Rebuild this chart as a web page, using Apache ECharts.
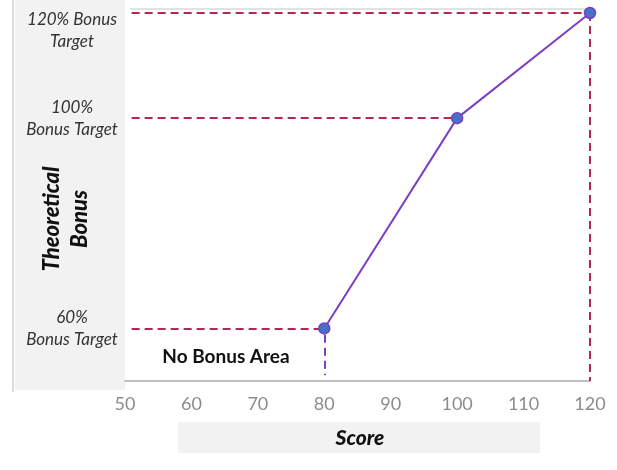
<!DOCTYPE html>
<html>
<head>
<meta charset="utf-8">
<script src="https://cdn.jsdelivr.net/npm/echarts@6/dist/echarts.min.js"></script>
<style>
    html, body {margin: 0; padding: 0; background: #ffffff;}
    #chart {width: 617px; height: 470px;}
</style>
</head>
<body>
<div id="chart"></div>
<script>
var scores      = [80, 100, 120];
var bonus       = [60, 100, 120];
var xMin        = 50;
var xMax        = 120;
var yMin        = 50;
var yMax        = 120;
var yLabelVals  = [60, 100, 120];
var yLabelTexts = ['60%\nBonus Target', '100%\nBonus Target', '120% Bonus\nTarget'];

var RED    = '#B32851';
var PURPLE = '#7B3FC4';
var FONT   = 'Lato';

var chartDom = document.getElementById('chart');
var chart    = echarts.init(chartDom, null, {renderer: 'canvas'});

/* Dashed guide lines from each point to the axes. */
var guides = [];
scores.forEach(function(score, i)
{
    guides.push([{coord: [xMin + 1, bonus[i]], lineStyle: {color: RED}}, {coord: [score, bonus[i]]}]);
});
guides.push([{coord: [scores[0], bonus[0] - 1.2], lineStyle: {color: PURPLE}}, {coord: [scores[0], yMin + 1.1]}]);
guides.push([{coord: [scores[1], bonus[1]], lineStyle: {color: RED}}, {coord: [scores[1], yMin - 1.5]}]);
guides.push([{coord: [scores[2], bonus[2]], lineStyle: {color: RED}}, {coord: [scores[2], yMin]}]);

var option =
{
    animation: false,
    grid: {left: 125, right: 27, top: 13, bottom: 89},
    xAxis:
    {
        type: 'value',
        min: xMin,
        max: xMax,
        interval: 10,
        axisLine: {show: true, lineStyle: {color: '#BFBFBF', width: 2}},
        axisTick: {show: false},
        splitLine: {show: false},
        axisLabel: {color: '#8C8C8C', fontSize: 18, fontFamily: FONT, margin: 14}
    },
    yAxis:
    {
        type: 'value',
        min: yMin,
        max: yMax,
        interval: 10,
        axisLine: {show: false},
        axisTick: {show: false},
        splitLine: {show: false},
        axisLabel: {show: false}
    },
    series:
    [
        {
            type: 'line',
            data: scores.map(function(s, i) { return [s, bonus[i]]; }),
            symbol: 'circle',
            symbolSize: 11,
            z: 5,
            lineStyle: {color: PURPLE, width: 2},
            itemStyle: {color: '#4472C4', borderColor: PURPLE, borderWidth: 1.5},
            markLine:
            {
                silent: true,
                symbol: 'none',
                z: 1,
                label: {show: false},
                lineStyle: {type: [8, 5], width: 2},
                data: guides
            }
        }
    ]
};
chart.setOption(option);

/* Side panels, axis titles and y labels placed through the chart scales. */
var top120 = chart.convertToPixel({yAxisIndex: 0}, yMax);
var graphics =
[
    {type: 'rect', z: -10, shape: {x: 15, y: 0, width: 110, height: 390}, style: {fill: '#F2F2F2'}},
    {type: 'line', z: -9, shape: {x1: 13, y1: 0, x2: 13, y2: 392}, style: {stroke: '#D0D0D0', lineWidth: 1.5}},
    {type: 'line', z: -9, shape: {x1: 130, y1: top120 - 4, x2: 590, y2: top120 - 4}, style: {stroke: '#D9D9D9', lineWidth: 1.5}},
    {type: 'rect', z: -10, shape: {x: 178, y: 422, width: 362, height: 31}, style: {fill: '#F2F2F2'}},
    {
        type: 'text', x: 360, y: 438,
        style: {text: 'Score', font: 'italic 900 21px ' + FONT, fill: '#111111', align: 'center', verticalAlign: 'middle'}
    },
    {
        type: 'text', x: 66, y: 219, rotation: Math.PI / 2,
        style: {text: 'Theoretical\nBonus', font: 'italic 900 22px ' + FONT, fill: '#111111', align: 'center', verticalAlign: 'middle', lineHeight: 28}
    },
    {
        type: 'text', x: chart.convertToPixel({xAxisIndex: 0}, 65.2), y: chart.convertToPixel({yAxisIndex: 0}, 54.6),
        style: {text: 'No Bonus Area', font: 'bold 19px ' + FONT, fill: '#111111', align: 'center', verticalAlign: 'middle'}
    }
];
yLabelVals.forEach(function(val, i)
{
    var py = Math.max(chart.convertToPixel({yAxisIndex: 0}, val), 31);
    graphics.push(
    {
        type: 'text', x: 72, y: py,
        style: {text: yLabelTexts[i], font: 'italic 17px ' + FONT, fill: '#333333', align: 'center', verticalAlign: 'middle', lineHeight: 22}
    });
});
chart.setOption({graphic: graphics});
</script>
</body>
</html>
